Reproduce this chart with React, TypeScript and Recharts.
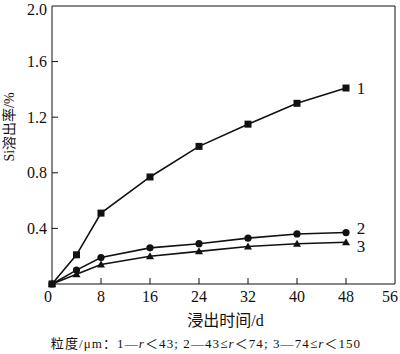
import React from 'react';
import { LineChart, Line, XAxis, YAxis, ReferenceLine, LabelList } from 'recharts';

const days = [0, 4, 8, 16, 24, 32, 40, 48];
const series1 = [0, 0.21, 0.51, 0.77, 0.99, 1.15, 1.3, 1.41];
const series2 = [0, 0.1, 0.19, 0.26, 0.29, 0.33, 0.36, 0.37];
const series3 = [0, 0.07, 0.14, 0.2, 0.235, 0.27, 0.29, 0.3];
const seriesNames = ['1', '2', '3'];
const xTicks = [0, 8, 16, 24, 32, 40, 48, 56];
const yTicks = [0.4, 0.8, 1.2, 1.6, 2.0];
const xLabel = '浸出时间/d';
const yLabel = 'Si溶出率/%';

const data = days.map((d, i) => ({ day: d, s1: series1[i], s2: series2[i], s3: series3[i] }));

const FONT = '"Liberation Serif", "Times New Roman", "Noto Sans CJK SC", serif';
const INK = '#111';

const XTick = (props: any) => {
  const { x, y, payload } = props;
  const v = payload.value;
  const tx = v === 0 ? x - 4 : v === 56 ? x - 5 : x;
  return (
    <g>
      {v !== 0 && v !== 56 && <line x1={x} x2={x} y1={y} y2={y - 6} stroke={INK} strokeWidth={1} />}
      <text x={tx} y={y + 12} textAnchor="middle" dominantBaseline="central" fontFamily={FONT} fontSize={16} fill={INK}>
        {v}
      </text>
    </g>
  );
};

const YTick = (props: any) => {
  const { x, y, payload } = props;
  const v = payload.value;
  return (
    <g>
      {v !== 2 && <line x1={x} x2={x + 6} y1={y} y2={y} stroke={INK} strokeWidth={1} />}
      <text x={x - 5} y={v === 2 ? y + 3 : y} textAnchor="end" dominantBaseline="central" fontFamily={FONT} fontSize={16} fill={INK}>
        {Number(v).toFixed(1)}
      </text>
    </g>
  );
};

const SquareDot = (p: any) => {
  if (p.cx == null) return <g key={p.key} />;
  return <rect key={p.key} x={p.cx - 3.5} y={p.cy - 3.5} width={7} height={7} fill={INK} />;
};
const CircleDot = (p: any) => {
  if (p.cx == null) return <g key={p.key} />;
  return <circle key={p.key} cx={p.cx} cy={p.cy} r={3.6} fill={INK} />;
};
const TriDot = (p: any) => {
  if (p.cx == null) return <g key={p.key} />;
  const s = 4;
  return <path key={p.key} d={`M${p.cx},${p.cy - s} L${p.cx + s},${p.cy + s * 0.75} L${p.cx - s},${p.cy + s * 0.75} Z`} fill={INK} />;
};

const makeEndLabel = (name: string, dx: number, dy: number) => (props: any) => {
  const { x, y, index } = props;
  if (index !== days.length - 1) return null;
  return (
    <text x={x + dx} y={y + dy} textAnchor="middle" dominantBaseline="central" fontFamily={FONT} fontSize={17} fill={INK}>
      {name}
    </text>
  );
};

const XAxisLabel = (props: any) => {
  const vb = props.viewBox || {};
  const cx = vb.x + vb.width / 2;
  return (
    <g>
      <text x={cx + 2} y={vb.y + 36} textAnchor="middle" dominantBaseline="central" fontFamily={FONT} fontSize={16} fill={INK}>
        {xLabel}
      </text>
      <text x={206} y={vb.y + 59} textAnchor="middle" dominantBaseline="central" fontFamily={FONT} fontSize={13} letterSpacing={1.1} fill={INK}>
        <tspan>粒度/μm：1—</tspan>
        <tspan fontStyle="italic">r</tspan>
        <tspan>＜43; 2—43≤</tspan>
        <tspan fontStyle="italic">r</tspan>
        <tspan>＜74; 3—74≤</tspan>
        <tspan fontStyle="italic">r</tspan>
        <tspan>＜150</tspan>
      </text>
    </g>
  );
};

const YAxisLabel = () => (
  <text transform="translate(9,127) rotate(-90)" textAnchor="middle" dominantBaseline="central" fontFamily={FONT} fontSize={14} fill={INK}>
    {yLabel}
  </text>
);

export default function App() {
  return (
    <div style={{ position: 'absolute', left: 0, top: 0, width: 400, height: 354, background: '#fff' }}>
      <LineChart width={400} height={354} data={data} margin={{ top: 6, right: 5, bottom: 0, left: 0 }}>
        <XAxis
          dataKey="day"
          type="number"
          domain={[0, 56]}
          ticks={xTicks}
          interval={0}
          height={70}
          tickSize={0}
          tickMargin={0}
          tick={<XTick />}
          axisLine={{ stroke: INK, strokeWidth: 1 }}
          label={<XAxisLabel />}
        />
        <YAxis
          type="number"
          domain={[0, 2]}
          ticks={yTicks}
          interval={0}
          width={52}
          tickSize={0}
          tickMargin={0}
          tick={<YTick />}
          axisLine={{ stroke: INK, strokeWidth: 1 }}
          label={<YAxisLabel />}
        />
        <ReferenceLine y={2} stroke={INK} strokeWidth={1} ifOverflow="visible" />
        <ReferenceLine x={56} stroke={INK} strokeWidth={1} ifOverflow="visible" />
        <Line dataKey="s1" stroke={INK} strokeWidth={1.6} dot={<SquareDot />} isAnimationActive={false}>
          <LabelList dataKey="s1" content={makeEndLabel(seriesNames[0], 15, 0)} />
        </Line>
        <Line dataKey="s2" stroke={INK} strokeWidth={1.6} dot={<CircleDot />} isAnimationActive={false}>
          <LabelList dataKey="s2" content={makeEndLabel(seriesNames[1], 15, -4)} />
        </Line>
        <Line dataKey="s3" stroke={INK} strokeWidth={1.6} dot={<TriDot />} isAnimationActive={false}>
          <LabelList dataKey="s3" content={makeEndLabel(seriesNames[2], 15, 4)} />
        </Line>
      </LineChart>
    </div>
  );
}
